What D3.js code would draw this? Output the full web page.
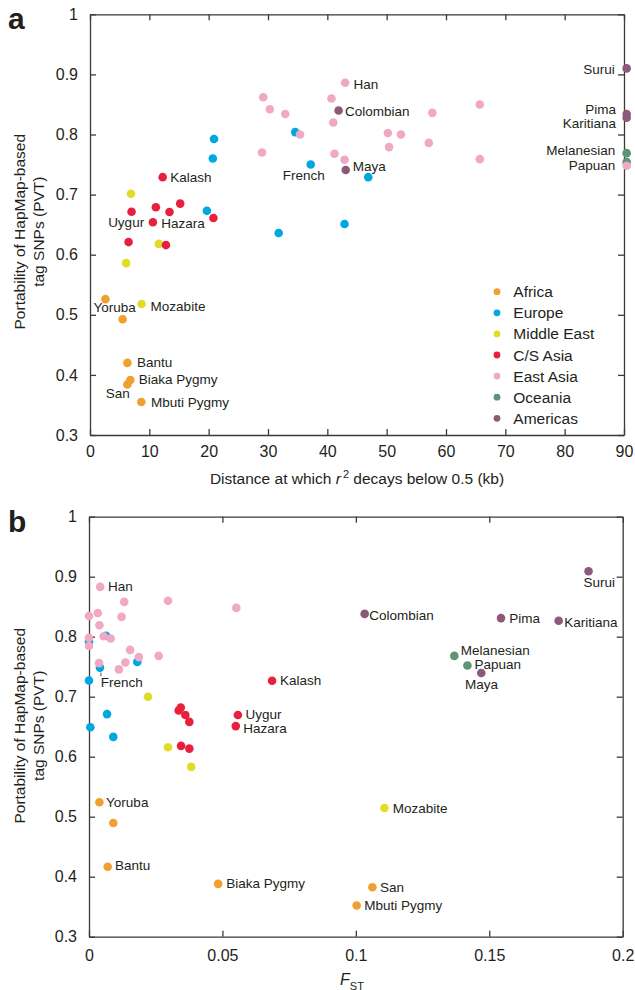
<!DOCTYPE html>
<html>
<head>
<meta charset="utf-8">
<script src="https://cdn.jsdelivr.net/npm/d3@7"></script>
<style>
  body { margin: 0; background: #fff; }
  svg { display: block; }
  text { font-family: "Liberation Sans", Arial, sans-serif; fill: #231f20; }
</style>
</head>
<body>
<div id="chart"></div>
<script>
// ============================================
// PVT vs LD decay distance (a) and vs FST (b)
// ============================================

var width = 635,
    height = 990;

// Region categories and colours
var regions = ["Africa", "Europe", "Middle East", "C/S Asia", "East Asia", "Oceania", "Americas"];
var regionColors = ["#f0a030", "#00a8e0", "#e0dc28", "#e8203e", "#f0a8c4", "#5e9474", "#8c5a78"];
// drawing order (East Asia on top)
var drawOrder = ["Americas", "Oceania", "Africa", "Europe", "Middle East", "C/S Asia", "East Asia"];

// Panel a: [region, distance (kb), PVT, label]
var ldPoints = [
    ["Africa", 2.6, 0.526, "Yoruba"],
    ["Africa", 5.5, 0.4925, ""],
    ["Africa", 6.3, 0.420, "Bantu"],
    ["Africa", 6.8, 0.3915, "Biaka Pygmy"],
    ["Africa", 6.3, 0.384, "San"],
    ["Africa", 8.65, 0.355, "Mbuti Pygmy"],
    ["Europe", 34.6, 0.804, ""],
    ["Europe", 20.9, 0.7925, ""],
    ["Europe", 20.7, 0.760, ""],
    ["Europe", 37.2, 0.750, "French"],
    ["Europe", 19.7, 0.673, ""],
    ["Europe", 31.8, 0.636, ""],
    ["Europe", 46.9, 0.729, ""],
    ["Europe", 42.9, 0.651, ""],
    ["Middle East", 6.9, 0.7015, ""],
    ["Middle East", 11.6, 0.618, ""],
    ["Middle East", 6.1, 0.586, ""],
    ["Middle East", 8.7, 0.518, "Mozabite"],
    ["C/S Asia", 12.25, 0.729, "Kalash"],
    ["C/S Asia", 7.0, 0.6715, "Uygur"],
    ["C/S Asia", 11.1, 0.679, ""],
    ["C/S Asia", 13.4, 0.671, ""],
    ["C/S Asia", 15.2, 0.685, ""],
    ["C/S Asia", 10.6, 0.654, "Hazara"],
    ["C/S Asia", 20.8, 0.661, ""],
    ["C/S Asia", 6.5, 0.621, ""],
    ["C/S Asia", 12.8, 0.616, ""],
    ["East Asia", 29.2, 0.862, ""],
    ["East Asia", 30.3, 0.842, ""],
    ["East Asia", 32.9, 0.834, ""],
    ["East Asia", 29.0, 0.770, ""],
    ["East Asia", 35.4, 0.800, ""],
    ["East Asia", 43.0, 0.886, "Han"],
    ["East Asia", 40.7, 0.860, ""],
    ["East Asia", 41.0, 0.820, ""],
    ["East Asia", 57.7, 0.836, ""],
    ["East Asia", 65.7, 0.850, ""],
    ["East Asia", 50.2, 0.8025, ""],
    ["East Asia", 52.4, 0.800, ""],
    ["East Asia", 50.4, 0.779, ""],
    ["East Asia", 57.1, 0.786, ""],
    ["East Asia", 41.2, 0.768, ""],
    ["East Asia", 42.9, 0.758, ""],
    ["East Asia", 65.7, 0.759, ""],
    ["East Asia", 90.45, 0.748, ""],
    ["Oceania", 90.45, 0.769, "Melanesian"],
    ["Oceania", 90.45, 0.754, "Papuan"],
    ["Americas", 90.45, 0.910, "Surui"],
    ["Americas", 90.45, 0.834, "Pima"],
    ["Americas", 90.45, 0.828, "Karitiana"],
    ["Americas", 41.9, 0.840, "Colombian"],
    ["Americas", 43.1, 0.741, "Maya"]
];

// Panel b: [region, FST, PVT, label]
var fstPoints = [
    ["Africa", 0.0039, 0.524, "Yoruba"],
    ["Africa", 0.0091, 0.4895, ""],
    ["Africa", 0.0070, 0.4167, "Bantu"],
    ["Africa", 0.0484, 0.388, "Biaka Pygmy"],
    ["Africa", 0.1062, 0.3823, "San"],
    ["Africa", 0.1003, 0.352, "Mbuti Pygmy"],
    ["Europe", 0.0064, 0.8017, ""],
    ["Europe", 0.0000, 0.792, ""],
    ["Europe", 0.0181, 0.758, ""],
    ["Europe", 0.0041, 0.7485, "French"],
    ["Europe", 0.0000, 0.727, ""],
    ["Europe", 0.00675, 0.671, ""],
    ["Europe", 0.0005, 0.649, ""],
    ["Europe", 0.0091, 0.633, ""],
    ["Middle East", 0.0221, 0.700, ""],
    ["Middle East", 0.0296, 0.6157, ""],
    ["Middle East", 0.0383, 0.583, ""],
    ["Middle East", 0.1107, 0.5145, "Mozabite"],
    ["C/S Asia", 0.0686, 0.7267, "Kalash"],
    ["C/S Asia", 0.0558, 0.6695, "Uygur"],
    ["C/S Asia", 0.0550, 0.651, "Hazara"],
    ["C/S Asia", 0.0344, 0.682, ""],
    ["C/S Asia", 0.0336, 0.677, ""],
    ["C/S Asia", 0.0361, 0.6695, ""],
    ["C/S Asia", 0.0376, 0.658, ""],
    ["C/S Asia", 0.0345, 0.618, ""],
    ["C/S Asia", 0.0376, 0.6135, ""],
    ["East Asia", 0.0042, 0.883, "Han"],
    ["East Asia", 0.0132, 0.858, ""],
    ["East Asia", 0.0296, 0.860, ""],
    ["East Asia", 0.0552, 0.848, ""],
    ["East Asia", 0.0033, 0.8395, ""],
    ["East Asia", 0.0000, 0.8345, ""],
    ["East Asia", 0.0122, 0.833, ""],
    ["East Asia", 0.0039, 0.819, ""],
    ["East Asia", 0.0055, 0.8007, ""],
    ["East Asia", 0.0081, 0.797, ""],
    ["East Asia", 0.0000, 0.798, ""],
    ["East Asia", 0.0000, 0.7845, ""],
    ["East Asia", 0.0154, 0.778, ""],
    ["East Asia", 0.0261, 0.768, ""],
    ["East Asia", 0.0187, 0.766, ""],
    ["East Asia", 0.0136, 0.757, ""],
    ["East Asia", 0.00375, 0.756, ""],
    ["East Asia", 0.0112, 0.7455, ""],
    ["Oceania", 0.1369, 0.768, "Melanesian"],
    ["Oceania", 0.1418, 0.752, "Papuan"],
    ["Americas", 0.1872, 0.909, "Surui"],
    ["Americas", 0.1033, 0.838, "Colombian"],
    ["Americas", 0.1544, 0.831, "Pima"],
    ["Americas", 0.1760, 0.8267, "Karitiana"],
    ["Americas", 0.1470, 0.7395, "Maya"]
];

// Axis ticks
var pvtTicks = [0.3, 0.4, 0.5, 0.6, 0.7, 0.8, 0.9, 1];
var distTicks = [0, 10, 20, 30, 40, 50, 60, 70, 80, 90];
var fstTicks = [0, 0.05, 0.1, 0.15, 0.2];

// Label placement (dx, dy, anchor) relative to the point
var ldLabelPos = {
    "Yoruba": [-12, 12.7, "start"], "Bantu": [9.7, 4, "start"], "Biaka Pygmy": [8.4, 4, "start"],
    "San": [-21.6, 13.4, "start"], "Mbuti Pygmy": [9.7, 5.3, "start"], "French": [-28, 15.7, "start"],
    "Mozabite": [9, 6.7, "start"], "Kalash": [7.6, 5.3, "start"], "Uygur": [-23.4, 15, "start"],
    "Hazara": [8.3, 5.4, "start"], "Han": [8.3, 6.3, "start"], "Colombian": [6.3, 6, "start"],
    "Maya": [7, 0.7, "start"], "Surui": [-12, 5.7, "end"], "Pima": [-10.7, 0.4, "end"],
    "Karitiana": [-10.7, 10.6, "end"], "Melanesian": [-11.4, 2.3, "end"], "Papuan": [-11.4, 7.7, "end"]
};
var fstLabelPos = {
    "Yoruba": [6.7, 4.7, "start"], "Bantu": [7.3, 3.3, "start"], "Biaka Pygmy": [8, 4, "start"],
    "San": [7.7, 4.4, "start"], "Mbuti Pygmy": [7.6, 4.7, "start"], "French": [0.7, 19.3, "start"],
    "Mozabite": [8.4, 4.7, "start"], "Kalash": [8, 4.3, "start"], "Uygur": [7.7, 4, "start"],
    "Hazara": [7.6, 7, "start"], "Han": [7.7, 4.3, "start"], "Colombian": [4.6, 6, "start"],
    "Pima": [8.3, 5.3, "start"], "Karitiana": [5.6, 6, "start"], "Melanesian": [6.4, -1, "start"],
    "Papuan": [7, 3.3, "start"], "Maya": [-16.3, 15.7, "start"], "Surui": [-5, 15.4, "start"]
};

var color = d3.scaleOrdinal().domain(regions).range(regionColors);

var svg = d3.select("#chart")
    .append("svg")
    .attr("width", width)
    .attr("height", height);

function fmtPvt(d) { return d === 1 ? "1" : d3.format(".1f")(d); }

function drawPanel(opts) {
    var x = opts.x, y = opts.y;
    var g = svg.append("g");
    var x0 = x.range()[0], x1 = x.range()[1];
    var y0 = y.range()[0], y1 = y.range()[1];

    // frame axes, ticks inward
    var axes = [
        { axis: d3.axisBottom(x).tickValues(opts.xTicks).tickFormat(opts.xFormat).tickPadding(opts.xPad), t: "translate(0," + y0 + ")" },
        { axis: d3.axisTop(x).tickValues(opts.xTicks).tickFormat(""), t: "translate(0," + y1 + ")" },
        { axis: d3.axisLeft(y).tickValues(pvtTicks).tickFormat(fmtPvt).tickPadding(12), t: "translate(" + x0 + ",0)" },
        { axis: d3.axisRight(y).tickValues(pvtTicks).tickFormat(""), t: "translate(" + x1 + ",0)" }
    ];
    axes.forEach(function (a) {
        var ag = g.append("g")
            .attr("transform", a.t)
            .call(a.axis.tickSizeInner(-6).tickSizeOuter(0));
        ag.selectAll("path, line").attr("stroke", "#3a3a3a").attr("stroke-width", 1.3);
        ag.selectAll("text")
            .style("font-family", '"Liberation Sans", Arial, sans-serif')
            .style("font-size", "16px")
            .attr("fill", "#231f20");
    });

    // points
    var pts = opts.data.slice().sort(function (a, b) {
        return drawOrder.indexOf(a[0]) - drawOrder.indexOf(b[0]);
    });
    g.append("g")
        .selectAll("circle")
        .data(pts)
        .enter()
        .append("circle")
        .attr("cx", function (d) { return x(d[1]); })
        .attr("cy", function (d) { return y(d[2]); })
        .attr("r", 4.3)
        .attr("fill", function (d) { return color(d[0]); });

    // population labels
    var labelled = opts.data.filter(function (d) { return d[3] !== ""; });
    g.append("g")
        .selectAll("text")
        .data(labelled)
        .enter()
        .append("text")
        .attr("x", function (d) { return x(d[1]) + opts.labelPos[d[3]][0]; })
        .attr("y", function (d) { return y(d[2]) + opts.labelPos[d[3]][1]; })
        .attr("text-anchor", function (d) { return opts.labelPos[d[3]][2]; })
        .style("font-size", "13.5px")
        .text(function (d) { return d[3]; });

    // y title
    var cy = opts.yTitleCenter;
    var yt = g.append("g").attr("transform", "rotate(-90)");
    yt.append("text").attr("x", -cy).attr("y", 24.5).attr("text-anchor", "middle")
        .style("font-size", "15.5px").text("Portability of HapMap-based");
    yt.append("text").attr("x", -cy).attr("y", 43.5).attr("text-anchor", "middle")
        .style("font-size", "15.5px").text("tag SNPs (PVT)");

    // panel letter
    g.append("text")
        .attr("x", 8)
        .attr("y", opts.letterY)
        .style("font-size", "30px")
        .style("font-weight", "bold")
        .text(opts.letter);

    return g;
}

// ---------- panel a ----------
var xA = d3.scaleLinear().domain([0, 90]).range([90, 624]);
var yA = d3.scaleLinear().domain([0.3, 1]).range([435, 14.3]);

var gA = drawPanel({
    x: xA, y: yA, data: ldPoints, labelPos: ldLabelPos,
    xTicks: distTicks, xFormat: d3.format("d"), xPad: 11,
    yTitleCenter: 231.7, letter: "a", letterY: 29
});

var xtA = gA.append("text")
    .attr("x", 357)
    .attr("y", 484)
    .attr("text-anchor", "middle")
    .style("font-size", "15.5px");
xtA.append("tspan").text("Distance at which ");
xtA.append("tspan").style("font-style", "italic").text("r");
xtA.append("tspan").attr("dy", -6).attr("dx", 2).style("font-size", "11px").text("2");
xtA.append("tspan").attr("dy", 6).text(" decays below 0.5 (kb)");

// legend
var legend = gA.append("g")
    .attr("class", "legend")
    .selectAll("g")
    .data(regions)
    .enter()
    .append("g")
    .attr("transform", function (d, i) { return "translate(497," + (291.7 + i * 21.1) + ")"; });
legend.append("circle").attr("r", 3.4).attr("fill", function (d) { return color(d); });
legend.append("text")
    .attr("x", 16.3)
    .attr("dy", "0.36em")
    .style("font-size", "15.5px")
    .text(function (d) { return d; });

// ---------- panel b ----------
var xB = d3.scaleLinear().domain([0, 0.2]).range([89, 622.7]);
var yB = d3.scaleLinear().domain([0.3, 1]).range([936.7, 516.7]);

var gB = drawPanel({
    x: xB, y: yB, data: fstPoints, labelPos: fstLabelPos,
    xTicks: fstTicks, xFormat: function (d) { return String(d); }, xPad: 12.5,
    yTitleCenter: 725.8, letter: "b", letterY: 531.7
});

// leader for French
var fr = fstPoints.filter(function (d) { return d[3] === "French"; })[0];
gB.append("line")
    .attr("x1", xB(fr[1]) + 1).attr("x2", xB(fr[1]) + 1)
    .attr("y1", yB(fr[2]) + 5).attr("y2", yB(fr[2]) + 8.5)
    .attr("stroke", "#231f20").attr("stroke-width", 0.8);

var xtB = gB.append("text")
    .attr("x", 352)
    .attr("y", 985)
    .attr("text-anchor", "middle")
    .style("font-size", "16px");
xtB.append("tspan").style("font-style", "italic").text("F");
xtB.append("tspan").attr("dy", 4.5).style("font-size", "11px").text("ST");
</script>
</body>
</html>
